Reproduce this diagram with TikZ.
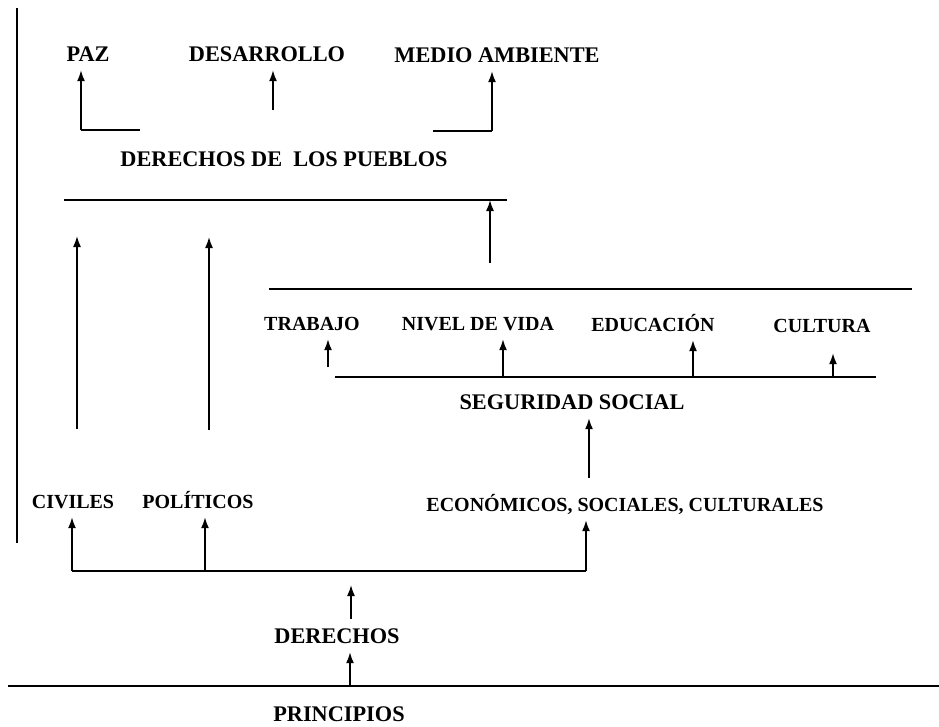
\documentclass[tikz,border=0pt]{standalone}
\usepackage{fontspec}
\setmainfont{Liberation Serif}
\usepackage{tikz}
\usetikzlibrary{arrows.meta}

\begin{document}
\begin{tikzpicture}[x=1pt,y=-1pt,
	grande/.style={anchor=base, inner xsep=0pt, inner ysep=9pt, text depth=0pt, text height=15pt, font=\fontsize{22.3}{26}\selectfont\bfseries},
	chica/.style={grande, text height=14pt, font=\fontsize{20}{24}\selectfont\bfseries},
	linea/.style={line width=2pt},
	flecha/.style={-{Latex[length=11pt,width=8pt]}, line width=1.6pt}]
			\useasboundingbox (0,0) rectangle (939,726);
			\draw[linea] (17,8) -- (17,543);
			\node[grande] (paz) at (88,61) {PAZ};
			\node[grande] (desarrollo) at (267,61) {DESARROLLO};
			\node[grande] (ambiente) at (497,62) {MEDIO AMBIENTE};
			\node[grande] (pueblos) at (284,166) {DERECHOS DE\ \ LOS PUEBLOS};
			\coordinate (p1) at (81,130); \coordinate (p2) at (140,130);
			\draw[linea] (p1) -- (p2);
			\draw[flecha] (p1) -- (p1 |- paz.south);
			\coordinate (d1) at (273,110);
			\draw[flecha] (d1) -- (d1 |- desarrollo.south);
			\coordinate (m1) at (433,131); \coordinate (m2) at (492,131);
			\draw[linea] (m1) -- (m2);
			\draw[flecha] (m2) -- (m2 |- ambiente.south);
			\coordinate (l1) at (64,200); \coordinate (l2) at (507,200);
			\draw[linea] (l1) -- (l2);
			\coordinate (e1) at (490,263);
			\draw[flecha] (e1) -- (e1 |- l1);
			\coordinate (c1) at (77,429); \coordinate (c2) at (77,236);
			\draw[flecha] (c1) -- (c2);
			\coordinate (q1) at (209,430); \coordinate (q2) at (209,237);
			\draw[flecha] (q1) -- (q2);
			\coordinate (t1) at (269,289); \coordinate (t2) at (912,289);
			\draw[linea] (t1) -- (t2);
			\node[chica] (trabajo) at (312,330) {TRABAJO};
			\node[chica] (vida) at (478,330) {NIVEL DE VIDA};
			\node[chica] (educacion) at (653,331) {EDUCACIÓN};
			\node[chica] (cultura) at (822,332) {CULTURA};
			\coordinate (s1) at (335,377); \coordinate (s2) at (876,377);
			\draw[linea] (s1) -- (s2);
			\coordinate (a1) at (328,367);
			\draw[flecha] (a1) -- (a1 |- trabajo.south);
			\coordinate (a2) at (503,377);
			\draw[flecha] (a2) -- (a2 |- vida.south);
			\coordinate (a3) at (693,377);
			\draw[flecha] (a3) -- (a3 |- educacion.south);
			\coordinate (a4) at (833,377);
			\draw[flecha, shorten >=12pt] (a4) -- (a4 |- cultura.south);
			\node[grande] (seguridad) at (572,409) {SEGURIDAD SOCIAL};
			\coordinate (u1) at (589,478);
			\draw[flecha] (u1) -- (u1 |- seguridad.south);
			\node[chica] (civiles) at (73,508) {CIVILES};
			\node[chica] (politicos) at (198,508) {POLÍTICOS};
			\node[chica] (economicos) at (625,511) {ECONÓMICOS, SOCIALES, CULTURALES};
			\coordinate (r1) at (72,571); \coordinate (r2) at (586,571); \coordinate (r3) at (205,571);
			\draw[linea] (r1) -- (r2);
			\draw[flecha] (r1) -- (r1 |- civiles.south);
			\draw[flecha] (r3) -- (r3 |- politicos.south);
			\draw[flecha] (r2) -- (r2 |- economicos.south);
			\node[grande] (derechos) at (337,643) {DERECHOS};
			\coordinate (h1) at (351,585);
			\draw[flecha] (h1 |- derechos.north) -- (h1);
			\coordinate (b1) at (8,686); \coordinate (b2) at (939,686); \coordinate (b3) at (350,686);
			\draw[linea] (b1) -- (b2);
			\draw[flecha] (b3) -- (b3 |- derechos.south);
			\node[grande] (principios) at (339,721) {PRINCIPIOS};
		\end{tikzpicture}
\end{document}
